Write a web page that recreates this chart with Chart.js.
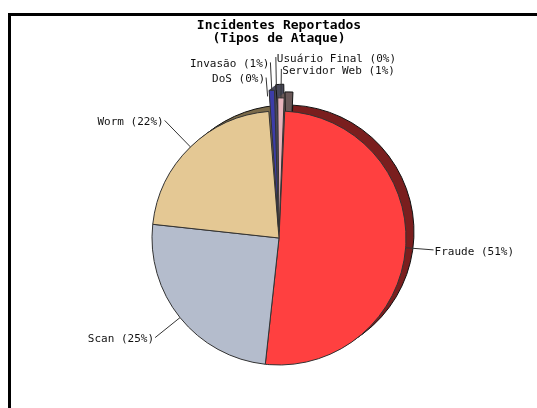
<!DOCTYPE html>
<html>
<head>
<meta charset="utf-8">
<script src="https://cdn.jsdelivr.net/npm/chart.js@4/dist/chart.umd.min.js"></script>
<style>
  html, body { margin: 0; padding: 0; background: #fff; overflow: hidden; width: 537px; height: 408px; }
  #frame { position: absolute; left: 8px; top: 13px; width: 620px; height: 520px; border: 3px solid #000; box-sizing: border-box; }
  #wrap { position: absolute; left: 11px; top: 16px; width: 536px; height: 420px; }
</style>
</head>
<body>
<div id="frame"></div>
<div id="wrap"><canvas id="chart" width="536" height="420"></canvas></div>
<script>
// Incident categories and their share of reported incidents (%)
const categories = ['Fraude', 'Scan', 'Worm', 'DoS', 'Invasão', 'Usuário Final', 'Servidor Web'];
const shares = [51, 25, 22, 0, 1, 0, 1];
const titleLines = ['Incidentes Reportados', '(Tipos de Ataque)'];

// Styling
const faceColors = ['#ff4040', '#b4bccc', '#e4c894', '#8fc88f', '#3c3ca8', '#c8c8c8', '#e8b4bc'];
const sideColors = ['#7a1e1e', '#5a5e66', '#7a6a4a', '#404040', '#48485a', '#505050', '#6a5858'];
const explode = [0, 0, 0, 30, 43, 42, 27];
const leaderLen = [28, 32, 37, 19, 28, 33, 29];
const labelSide = [1, -1, -1, -1, -1, 1, 1];   // 1 = text right of the leader, -1 = left
const depth = { dx: 8, dy: -6, steps: 8 };
const labelFont = '11px "DejaVu Sans Mono", "Liberation Mono", monospace';

// translation Chart.js applies to an exploded arc
function arcShift(el) {
  const offset = (el.options.offset || 0) / 4;
  const fix = 1 - Math.sin(Math.min(Math.PI, el.circumference || 0));
  return offset * (1 + fix);
}

function sector(ctx, cx, cy, r, a0, a1) {
  ctx.beginPath();
  ctx.moveTo(cx, cy);
  ctx.arc(cx, cy, r, a0, a1);
  ctx.closePath();
}

// dark side walls drawn behind the slice faces
const extrude = {
  id: 'extrude',
  beforeDatasetsDraw(chart) {
    const ctx = chart.ctx;
    const meta = chart.getDatasetMeta(0);
    meta.data.forEach((el, i) => {
      if (!el.circumference) return;
      const mid = (el.startAngle + el.endAngle) / 2;
      const t = arcShift(el);
      const cx = el.x + Math.cos(mid) * t;
      const cy = el.y + Math.sin(mid) * t;
      ctx.save();
      ctx.fillStyle = sideColors[i];
      for (let k = 1; k <= depth.steps; k++) {
        sector(ctx, cx + depth.dx * k / depth.steps, cy + depth.dy * k / depth.steps,
               el.outerRadius, el.startAngle, el.endAngle);
        ctx.fill();
      }
      ctx.strokeStyle = '#111';
      ctx.lineWidth = 1;
      sector(ctx, cx + depth.dx, cy + depth.dy, el.outerRadius, el.startAngle, el.endAngle);
      ctx.stroke();
      ctx.restore();
    });
  }
};

// slice labels with leader lines
const sliceLabels = {
  id: 'sliceLabels',
  afterDatasetsDraw(chart) {
    const ctx = chart.ctx;
    const meta = chart.getDatasetMeta(0);
    const total = shares.reduce((a, b) => a + b, 0);
    ctx.save();
    ctx.font = labelFont;
    ctx.fillStyle = '#111';
    ctx.strokeStyle = '#333';
    ctx.lineWidth = 1;
    ctx.textBaseline = 'middle';
    meta.data.forEach((el, i) => {
      const mid = (el.startAngle + el.endAngle) / 2;
      const r = el.outerRadius + arcShift(el);
      const ux = Math.cos(mid), uy = Math.sin(mid);
      const ax = el.x + ux * r, ay = el.y + uy * r;
      const ex = ax + ux * leaderLen[i], ey = ay + uy * leaderLen[i];
      ctx.beginPath();
      ctx.moveTo(ax, ay);
      ctx.lineTo(ex, ey);
      ctx.stroke();
      const pct = Math.round(shares[i] / total * 100);
      const text = categories[i] + ' (' + pct + '%)';
      if (labelSide[i] < 0) {
        ctx.textAlign = 'right';
        ctx.fillText(text, ex - 1, ey + 2);
      } else {
        ctx.textAlign = 'left';
        ctx.fillText(text, ex + 1, ey + 2);
      }
    });
    ctx.restore();
  }
};

new Chart(document.getElementById('chart'), {
  type: 'pie',
  data: {
    labels: categories,
    datasets: [{
      data: shares,
      backgroundColor: faceColors,
      borderColor: '#333',
      borderWidth: 1,
      offset: explode,
      radius: 127,
      rotation: 2.6
    }]
  },
  options: {
    responsive: false,
    animation: false,
    events: [],
    layout: { padding: { top: 0, bottom: 9, left: 0, right: 0 } },
    plugins: {
      legend: { display: false },
      tooltip: { enabled: false },
      title: {
        display: true,
        text: titleLines,
        color: '#000',
        font: { family: '"DejaVu Sans Mono", monospace', size: 13, weight: 'bold', lineHeight: 1.0 },
        padding: { top: 3, bottom: 4 }
      }
    }
  },
  plugins: [extrude, sliceLabels]
});
</script>
</body>
</html>
